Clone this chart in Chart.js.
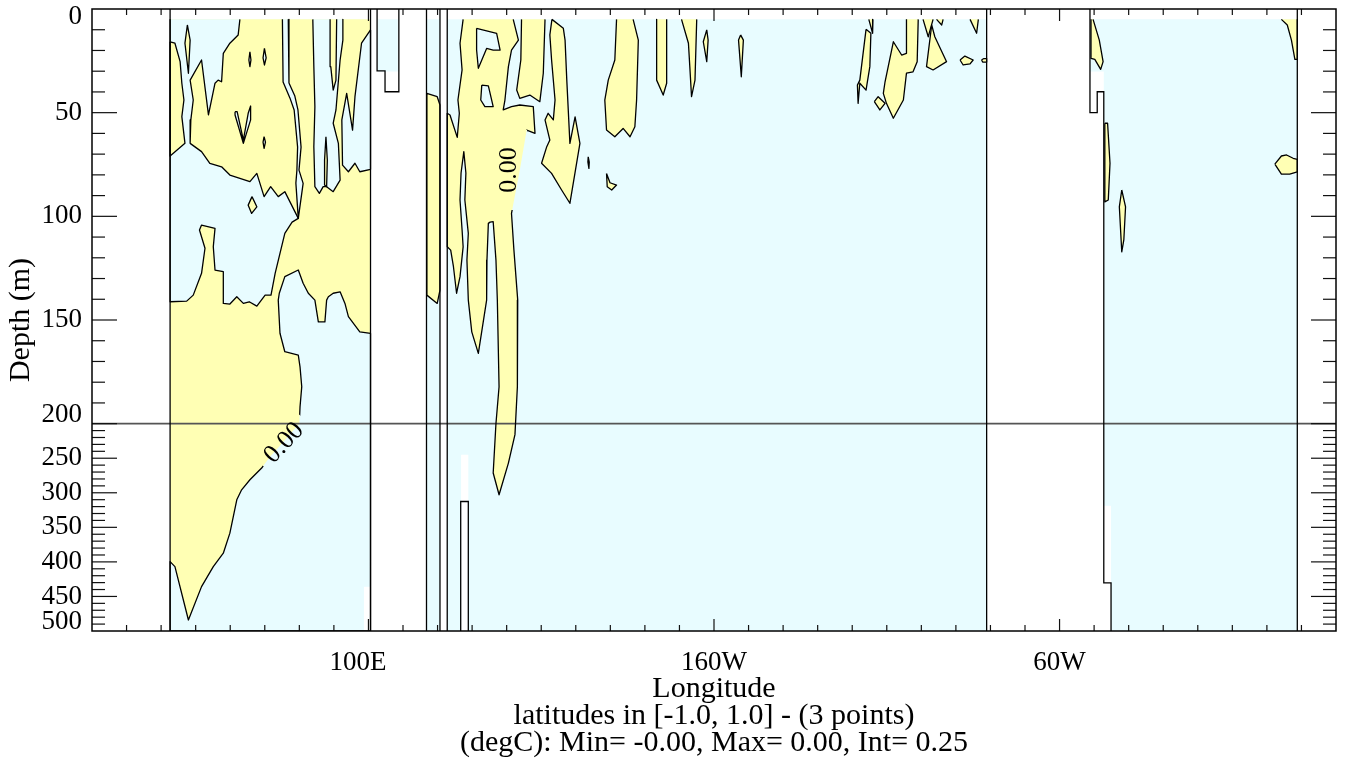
<!DOCTYPE html>
<html>
<head>
<meta charset="utf-8">
<script src="https://cdn.jsdelivr.net/npm/chart.js@4.4.1/dist/chart.umd.min.js"></script>
<style>
  html, body { margin: 0; background: #fff; }
</style>
</head>
<body>
<canvas id="chart" width="1347" height="762"></canvas>
<script>
// axis ticks and labels
const xTickLons = [30,40,50,60,70,80,90,100,110,120,130,140,150,160,170,180,190,200,210,220,230,240,250,260,270,280,290,300,310,320,330,340,350,360,370];
const xLabelLons = [100, 200, 300];
const xLabelNudge = [-3, 0, 0];
const xLabelText = ['100E', '160W', '60W'];
const yLabelDepths = [0, 50, 100, 150, 200, 250, 300, 350, 400, 450, 500];
const yLabelNudge = [4, 0, 0, 0, -4.4, 0, 0, 0, 0, 0, -4.4];
const yTickDepths = [10,20,30,40,50,60,70,80,90,100,110,120,130,140,150,160,170,180,190,200,210,220,230,240,250,260,270,280,290,300,310,320,330,340,350,360,370,380,390,400,410,420,430,440,450,460,470,480,490];
const xTitleLines = ['Longitude', 'latitudes in [-1.0, 1.0] - (3 points)', '(degC): Min= -0.00, Max= 0.00, Int= 0.25'];
const yTitle = 'Depth (m)';
const contourLabelText = '0.00';
const contourLabels = [
  { lon: 75.6, depth: 228, angle: -47, gap: [62, 30] },
  { lon: 140.7, depth: 77.7, angle: -90, gap: [80, 36] }
];

// polygons as [longitude (deg E), depth (m)]
const oceanAreas = [
  [[42.6,5],[100.6,5],[100.6,500],[42.6,500]],
  [[102.7,5],[108.5,5],[108.5,30.2],[102.7,30.2]],
  [[116.9,5],[120.7,5],[120.7,500],[116.9,500]],
  [[122.8,5],[278.9,5],[278.9,500],[122.8,500]],
  [[308.8,5],[368.8,5],[368.8,500],[314.9,500],[314.9,318.8],[312.8,318.8],[312.8,30.2],[308.8,30.2]]
];

const warmBase = [
  [[42.6,5],[100.6,5],[100.6,500],[42.6,500]]
];

const coolPatches = [
  [[42.6,5],[62.8,5],[62.3,12.5],[59.9,16.5],[58.0,21.4],[57.5,35.1],[56.5,34.3],[55.6,35.8],[53.7,51.1],[51.7,24.6],[48.4,34.3],[49.3,43.9],[48.6,53.5],[48.4,64.8],[51.7,68.8],[54.1,74.4],[57.5,76.1],[59.9,80.1],[65.7,83.3],[67.7,79.3],[69.8,90.5],[71.7,85.7],[73.9,90.5],[75.8,88.1],[79.7,101.0],[77.9,102.8],[75.8,108.2],[73.0,127.5],[71.8,138.0],[70.1,138.0],[67.7,143.3],[65.5,141.2],[63.8,142.0],[61.9,138.8],[59.9,142.3],[58.0,142.0],[58.0,126.7],[55.6,125.9],[55.1,114.7],[55.6,105.8],[51.7,104.2],[51.1,106.6],[52.7,115.4],[51.7,127.5],[49.3,138.0],[47.4,140.9],[42.6,141.2]],
  [[75.1,5],[76.8,5],[77.0,35.7],[78.7,42.0],[79.6,48.7],[80.5,66.6],[79.9,77.7],[81.1,84.1],[79.7,101.0],[79.0,84.0],[79.3,77.7],[79.5,66.6],[78.5,48.7],[77.3,43.0],[75.3,35.2]],
  [[83.9,5],[92.6,5],[92.6,15.0],[91.8,24.6],[90.6,48.7],[89.8,55.1],[91.3,64.8],[91.8,82.5],[89.8,88.1],[87.9,85.7],[86.9,85.7],[85.8,88.9],[84.5,85.7],[84.2,66.4],[84.5,47.1],[84.2,27.8]],
  [[100.6,10.1],[98.0,16.5],[96.1,42.3],[95.4,58.4],[93.7,40.7],[92.3,53.5],[92.5,75.3],[94.2,78.5],[96.1,74.4],[97.5,78.5],[100.6,77.3]],
  [[100.6,156.4],[97.5,155.7],[94.2,148.4],[93.2,142.0],[91.8,136.4],[89.8,137.1],[88.4,138.8],[87.9,140.4],[87.4,150.9],[85.5,150.9],[84.5,140.4],[82.6,137.1],[81.1,132.3],[79.7,125.9],[75.8,129.1],[74.2,137.1],[73.9,140.4],[74.4,156.4],[75.8,165.3],[79.7,166.9],[80.2,172.6],[80.7,182.2],[80.2,191.9],[80.0,199.9],[77.9,211.6],[74.4,231.9],[71.5,247.8],[69.1,264.2],[65.7,281.2],[63.3,295.7],[61.9,310.1],[59.9,358.4],[58.0,387.4],[55.1,406.8],[51.7,435.8],[47.9,484.1],[44.0,406.8],[42.6,399.6],[42.6,500],[100.6,500]],
  [[65.7,20.6],[66.0,24.6],[65.7,27.8],[65.4,24.6]],
  [[69.9,19.0],[70.4,23.6],[69.9,27.0],[69.5,23.6]],
  [[61.4,49.5],[62.0,49.5],[63.8,63.2],[65.2,50.3],[65.9,46.8],[65.9,53.5],[63.8,64.8],[61.4,51.1]],
  [[69.8,61.6],[70.2,64.2],[69.8,67.2],[69.5,64.2]]
];

const warmPatches = [
  // Indian Ocean islands
  [[42.6,15.8],[44.0,16.5],[45.5,25.4],[46.0,35.8],[46.6,43.9],[46.0,51.9],[46.9,64.8],[42.6,70.9]],
  [[47.6,7.7],[48.4,15.0],[47.9,31.0],[46.9,16.5]],
  [[66.3,90.5],[67.7,95.4],[66.2,98.6],[65.2,94.6]],
  [[88.9,5],[90.8,5],[90.6,34.3],[89.8,39.1],[89.1,27.8]],
  [[87.7,61.6],[88.1,72.8],[87.9,85.7],[87.3,84.9],[87.3,72.8]],
  [[116.9,40.7],[119.9,42.3],[120.7,46.3],[120.7,135.6],[119.9,142.0],[116.9,138.0]],
  // Pacific
  [[127.4,5],[141.9,5],[143.4,15.0],[141.4,19.8],[140.5,27.8],[139.5,43.9],[139.0,48.7],[141.4,47.1],[143.8,46.3],[147.7,47.1],[148.2,60.0],[145.8,58.4],[143.8,77.7],[141.4,98.6],[142.1,116.3],[143.2,140.4],[143.1,182.2],[142.4,215.9],[140.5,257.0],[137.8,302.9],[136.1,271.4],[136.9,199.9],[137.8,182.2],[137.3,140.4],[136.9,121.1],[136.1,102.6],[135.2,102.8],[134.7,103.4],[134.3,121.1],[134.2,140.4],[131.8,166.1],[129.9,155.7],[128.9,140.4],[128.5,121.1],[128.9,108.2],[127.9,92.1],[128.2,79.1],[127.6,68.8],[126.8,79.1],[126.5,92.1],[127.1,106.6],[127.4,114.7],[126.5,129.1],[125.5,137.1],[124.6,124.3],[123.8,116.3],[122.8,114.7],[122.8,50.3],[123.6,51.1],[125.7,61.9],[126.3,50.3],[125.9,43.9],[127.1,29.4],[126.5,16.5]],
  [[144.3,5],[151.1,5],[150.6,31.0],[149.6,44.7],[146.7,41.5],[143.8,43.1],[142.9,39.1],[144.1,24.6]],
  [[153.1,5],[156.4,9.3],[156.9,15.0],[157.4,34.3],[158.3,64.8],[159.8,52.0],[161.2,64.8],[158.3,93.7],[155.9,87.3],[153.0,79.3],[150.1,74.4],[151.6,66.4],[152.5,63.2],[151.1,53.5],[152.0,50.3],[153.5,53.5],[154.0,43.9],[153.0,24.6],[152.5,12.5]],
  [[171.8,5],[171.3,24.6],[169.4,34.3],[168.4,43.9],[168.9,58.4],[171.3,61.6],[173.7,57.6],[175.7,61.6],[177.1,56.8],[177.6,43.9],[178.1,15.0],[176.6,5]],
  [[163.6,71.3],[163.9,73.8],[163.8,76.9],[163.5,73.8]],
  [[168.9,79.3],[169.9,83.8],[171.8,84.9],[170.4,87.3],[169.1,85.7]],
  [[183.4,5],[183.4,34.3],[185.3,41.5],[186.3,35.8],[186.3,5]],
  [[190.6,5],[192.6,16.5],[193.0,27.8],[193.5,42.3],[194.5,34.3],[195.0,5]],
  [[197.9,10.1],[198.3,15.0],[197.9,25.4],[196.9,15.8]],
  [[207.7,12.5],[208.5,15.0],[207.9,32.7],[207.1,15.0]],
  [[244.8,5],[246.0,5],[245.9,11.7]],
  [[244.0,9.8],[245.4,11.7],[245.1,27.8],[244.0,39.1],[242.2,35.8],[241.7,45.5],[241.5,36.7],[242.2,34.3]],
  [[255.7,5],[259.1,5],[258.8,25.4],[257.6,30.3],[255.7,30.9],[254.8,43.9],[251.9,52.7],[249.9,45.5],[249.0,40.7],[249.5,35.1],[251.9,15.8],[254.3,22.2],[255.7,21.4]],
  [[260.5,5],[262.0,13.4],[263.4,5]],
  [[263.0,7.7],[261.5,27.8],[263.4,29.4],[267.3,25.4],[263.9,13.4]],
  [[264.4,5],[265.9,7.7],[266.3,5]],
  [[274.1,5],[276.0,11.7],[276.5,5]],
  [[271.2,24.6],[272.6,22.7],[275.0,24.6],[274.1,26.5],[272.1,27.0]],
  [[246.4,44.7],[247.5,42.3],[249.5,45.5],[248.0,48.7]],
  [[277.4,24.6],[278.1,23.9],[278.9,23.9],[278.9,25.6],[277.8,25.6]],
  // Atlantic
  [[309.1,5],[309.7,5],[311.5,15.0],[312.6,25.4],[311.9,29.1],[310.2,24.3],[309.1,23.8]],
  [[313.1,55.1],[313.9,55.1],[314.6,74.4],[314.1,92.1],[313.1,93.0]],
  [[318.0,87.3],[319.1,95.4],[318.6,111.4],[318.0,117.1],[317.3,95.4]],
  [[364.2,5],[365.9,7.7],[367.1,15.0],[368.1,24.3],[368.8,24.3],[368.8,5]],
  [[362.3,74.8],[364.2,70.9],[365.7,70.4],[367.6,72.0],[368.8,72.5],[368.8,78.5],[366.6,79.6],[364.2,79.6]]
];

const coolInner = [
  [[131.3,9.3],[137.1,11.7],[138.1,19.8],[136.1,19.8],[134.2,19.0],[131.8,28.6],[131.3,19.8]],
  [[132.8,36.7],[134.7,37.1],[136.1,47.1],[133.7,47.1],[132.5,43.9]]
];

const landPatches = [
  [[98.7,436],[100.6,436],[100.6,500],[98.7,500]],
  [[126.8,245],[128.9,245],[128.9,500],[126.8,500]]
];

const coastLines = [
  [[42.6,0],[42.6,500]],
  [[100.6,0],[100.6,500]],
  [[102.5,0],[102.5,29.8],[104.8,29.8],[104.8,39.9],[108.8,39.9],[108.8,0]],
  [[116.8,0],[116.8,500]],
  [[120.7,0],[120.7,500]],
  [[122.8,0],[122.8,500]],
  [[126.7,500],[126.7,312.6],[128.9,312.6],[128.9,500]],
  [[278.9,0],[278.9,500]],
  [[308.8,0],[308.8,50.0],[310.9,50.0],[310.9,39.9],[312.8,39.9],[312.8,430.4],[314.9,430.4],[314.9,500]],
  [[368.8,0],[368.8,500]]
];

const OCEAN = 'rgb(232,252,255)';
const WARM = 'rgb(255,255,180)';
const SERIF = '"Liberation Serif", "Times New Roman", serif';

// depth axis: 0-200 m linear, 200-500 m compressed by 3
function depthToU(d) {
  return d <= 200 ? d : 200 + (d - 200) / 3;
}

function polyDataset(poly, color, stroke) {
  const pts = poly.map(p => ({ x: p[0], y: depthToU(p[1]) }));
  if (stroke) pts.push(pts[0]);
  return {
    data: pts,
    showLine: true,
    pointRadius: 0,
    pointHoverRadius: 0,
    areaColor: color,
    borderColor: stroke ? '#000' : 'rgba(0,0,0,0)',
    borderWidth: stroke ? 1.3 : 0,
    borderJoinStyle: 'round',
    segment: {
      // no contour line along the top of the data
      borderColor: c => (c.p0.parsed.y <= 5.5 && c.p1.parsed.y <= 5.5) ? 'rgba(0,0,0,0)' : undefined
    }
  };
}

function lineDataset(line, color, width, noGap) {
  return {
    data: line.map(p => ({ x: p[0], y: depthToU(p[1]) })),
    showLine: true,
    pointRadius: 0,
    pointHoverRadius: 0,
    borderColor: color,
    borderWidth: width,
    noGap: noGap
  };
}

const datasets = [];
[[oceanAreas, OCEAN, false], [warmBase, WARM, false], [coolPatches, OCEAN, true],
 [warmPatches, WARM, true], [coolInner, OCEAN, true], [landPatches, '#fff', false]]
  .forEach(([list, color, stroke]) => list.forEach(p => datasets.push(polyDataset(p, color, stroke))));
coastLines.forEach(l => datasets.push(lineDataset(l, '#000', 1.3, false)));
datasets.push(lineDataset([[20, 200], [380, 200]], '#555', 1.6, true));

// fill every polygon before the lines are drawn
const fillPlugin = {
  id: 'polyFill',
  beforeDatasetsDraw(chart) {
    const { ctx, chartArea: a } = chart;
    ctx.save();
    ctx.beginPath();
    ctx.rect(a.left, a.top, a.right - a.left, a.bottom - a.top);
    ctx.clip();
    chart.data.datasets.forEach((ds, i) => {
      if (!ds.areaColor) return;
      const pts = chart.getDatasetMeta(i).data;
      ctx.beginPath();
      pts.forEach((p, k) => k ? ctx.lineTo(p.x, p.y) : ctx.moveTo(p.x, p.y));
      ctx.closePath();
      ctx.fillStyle = ds.areaColor;
      ctx.fill();
    });
    ctx.restore();
  }
};

function labelBox(chart, l) {
  const cx = chart.scales.x.getPixelForValue(l.lon);
  const cy = chart.scales.y.getPixelForValue(depthToU(l.depth));
  return { cx, cy, a: l.angle * Math.PI / 180 };
}

// break the contour lines where the labels sit
const gapPlugin = {
  id: 'labelGaps',
  beforeDatasetDraw(chart, args) {
    const ctx = chart.ctx;
    ctx.save();
    if (chart.data.datasets[args.index].noGap) return;
    ctx.beginPath();
    ctx.rect(0, 0, chart.width, chart.height);
    contourLabels.forEach(l => {
      const { cx, cy, a } = labelBox(chart, l);
      const c = Math.cos(a), s = Math.sin(a);
      const hw = l.gap[0] / 2, hh = l.gap[1] / 2;
      [[-hw, -hh], [-hw, hh], [hw, hh], [hw, -hh]].forEach(([u, v], k) => {
        const px = cx + u * c - v * s, py = cy + u * s + v * c;
        k ? ctx.lineTo(px, py) : ctx.moveTo(px, py);
      });
      ctx.closePath();
    });
    ctx.clip('evenodd');
  },
  afterDatasetDraw(chart) {
    chart.ctx.restore();
  }
};

const labelPlugin = {
  id: 'contourText',
  afterDatasetsDraw(chart) {
    const ctx = chart.ctx;
    contourLabels.forEach(l => {
      const { cx, cy, a } = labelBox(chart, l);
      ctx.save();
      ctx.translate(cx, cy);
      ctx.rotate(a);
      ctx.font = '26px ' + SERIF;
      ctx.fillStyle = '#000';
      ctx.textAlign = 'center';
      ctx.textBaseline = 'middle';
      ctx.fillText(contourLabelText, 0, 0);
      ctx.restore();
    });
  }
};

// frame and inward tick marks on all four sides
const framePlugin = {
  id: 'frameTicks',
  beforeDraw(chart) {
    const ctx = chart.ctx;
    ctx.save();
    ctx.fillStyle = '#fff';
    ctx.fillRect(0, 0, chart.width, chart.height);
    ctx.restore();
  },
  afterDraw(chart) {
    const { ctx, chartArea: a, scales: { x, y } } = chart;
    const seg = (x1, y1, x2, y2) => { ctx.beginPath(); ctx.moveTo(x1, y1); ctx.lineTo(x2, y2); ctx.stroke(); };
    ctx.save();
    ctx.strokeStyle = '#111';
    ctx.lineWidth = 1.2;
    xTickLons.forEach(v => {
      const px = x.getPixelForValue(v);
      const len = xLabelLons.includes(v) ? 12 : 6;
      seg(px, a.top, px, a.top + len);
      seg(px, a.bottom, px, a.bottom - len);
    });
    yTickDepths.forEach(d => {
      const py = y.getPixelForValue(depthToU(d));
      const len = yLabelDepths.includes(d) ? 25 : 13;
      seg(a.left, py, a.left + len, py);
      seg(a.right, py, a.right - len, py);
    });
    ctx.strokeStyle = '#000';
    ctx.lineWidth = 1.5;
    ctx.strokeRect(a.left, a.top, a.right - a.left, a.bottom - a.top);
    ctx.restore();
  }
};

new Chart(document.getElementById('chart'), {
  type: 'scatter',
  data: { datasets },
  options: {
    responsive: false,
    animation: false,
    events: [],
    layout: { padding: { top: 9, right: 11, bottom: 0, left: 0 } },
    plugins: { legend: { display: false }, tooltip: { enabled: false } },
    scales: {
      x: {
        type: 'linear',
        min: 20,
        max: 380,
        grid: { display: false, drawTicks: false },
        border: { display: false },
        afterBuildTicks: ax => { ax.ticks = xLabelLons.map((v, i) => ({ value: v + xLabelNudge[i] })); },
        ticks: {
          callback: (v, i) => xLabelText[i],
          padding: 16,
          color: '#000',
          autoSkip: false,
          maxRotation: 0,
          font: { family: SERIF, size: 27 }
        },
        title: {
          display: true,
          text: xTitleLines,
          color: '#000',
          font: { family: SERIF, size: 30, lineHeight: '27px' },
          padding: { top: 0, bottom: 5.5 }
        },
        afterFit: ax => { ax.height = 131; ax.paddingLeft = 0; ax.paddingRight = 0; }
      },
      y: {
        type: 'linear',
        min: 0,
        max: 300,
        reverse: true,
        grid: { display: false, drawTicks: false },
        border: { display: false },
        afterBuildTicks: ax => { ax.ticks = yLabelDepths.map((d, i) => ({ value: depthToU(d) + yLabelNudge[i] })); },
        ticks: {
          callback: (v, i) => String(yLabelDepths[i]),
          padding: 10,
          color: '#000',
          autoSkip: false,
          font: { family: SERIF, size: 27 }
        },
        title: {
          display: true,
          text: yTitle,
          color: '#000',
          font: { family: SERIF, size: 30 },
          padding: { top: 3.5, bottom: 0 }
        },
        afterFit: ax => { ax.width = 92; ax.paddingTop = 0; ax.paddingBottom = 0; }
      }
    }
  },
  plugins: [fillPlugin, gapPlugin, labelPlugin, framePlugin]
});
</script>
</body>
</html>
